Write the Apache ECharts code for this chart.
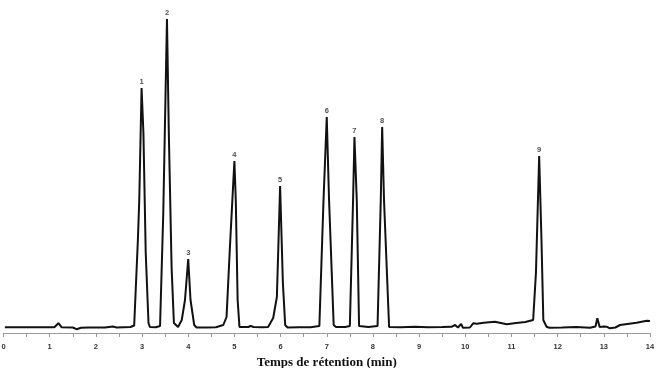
<!DOCTYPE html>
<html lang="fr">
<head>
    <meta charset="utf-8">
    <title>Chromatogramme</title>
    <style>
        html, body { margin: 0; padding: 0; background: #fff; }
        #chart { width: 657px; height: 368px; }
    </style>
</head>
<body>
    <div id="chart"></div>

<script src="https://cdn.jsdelivr.net/npm/echarts@6/dist/echarts.min.js"></script>
<script>
    // temps de retention (min) et signal du detecteur (unites arbitraires)
    var retentionTimes = [
        0.03, 0.5, 1.10, 1.19, 1.26, 1.5, 1.58, 1.68, 1.85, 2.0, 2.2, 2.37, 2.45, 2.75,
        2.83, 2.91, 2.94, 2.99, 3.03, 3.08, 3.14, 3.17, 3.3,
        3.39, 3.46, 3.54, 3.58, 3.64, 3.69, 3.78,
        3.86, 3.93, 4.00, 4.05, 4.13, 4.18, 4.4, 4.6,
        4.76, 4.83, 4.90, 5.00, 5.03, 5.07, 5.11, 5.3, 5.35, 5.42, 5.6, 5.73,
        5.84, 5.92, 5.99, 6.05, 6.10, 6.15, 6.4, 6.65,
        6.84, 6.93, 7.00, 7.05, 7.15, 7.2, 7.4,
        7.50, 7.57, 7.60, 7.65, 7.70, 7.9,
        8.10, 8.17, 8.20, 8.24, 8.35, 8.6, 8.9, 9.2, 9.5, 9.7,
        9.78, 9.84, 9.91, 9.95, 10.1, 10.17, 10.25, 10.4, 10.64, 10.9, 11.1, 11.3, 11.47,
        11.51, 11.53, 11.60, 11.65, 11.69, 11.76, 11.82, 12.1, 12.4, 12.7,
        12.82, 12.86, 12.91, 13.0, 13.06, 13.13, 13.25, 13.35, 13.71, 13.93, 14.0
    ];
    var signal = [
        0.7, 0.7, 0.7, 4.8, 0.7, 0.5, -1.2, 0.3, 0.6, 0.4, 0.6, 1.4, 0.6, 1.0,
        2.5, 88, 128, 240, 195, 75, 5, 1, 0.8,
        2, 115, 309, 195, 61, 5, 1,
        8, 28, 69, 28, 3, 0.5, 0.5, 0.7,
        3, 11, 78, 167, 128, 28, 1, 1, 2, 1, 0.8, 1,
        10, 31, 142, 45, 3, 0.5, 0.7, 0.8,
        2, 128, 211, 128, 3, 1, 1,
        2, 128, 191, 128, 2, 1,
        2, 128, 201, 128, 1, 0.8, 1.3, 0.8, 1, 1.2,
        3, 0.5, 4, 0.3, 0.5, 4.7, 4.2, 5.2, 6.3, 3.7, 5, 6, 8,
        8, 55, 172, 88, 8, 1.3, 0.3, 0.5, 1, 0.3,
        1.5, 9.7, 1, 1.5, 1.3, -0.3, 0.5, 3, 5.3, 7.3, 7
    ];

    // pics identifies
    var peakLabels = ['1', '2', '3', '4', '5', '6', '7', '8', '9'];
    var peakTimes = [2.99, 3.54, 4.00, 5.00, 5.99, 7.00, 7.60, 8.20, 11.60];
    var peakHeights = [240, 309, 69, 167, 142, 211, 191, 201, 172];

    var myChart = echarts.init(document.getElementById('chart'));

    var traceData = [];
    for (var i = 0; i < retentionTimes.length; i++) {
        traceData.push([retentionTimes[i], signal[i]]);
    }

    var peakData = [];
    for (var j = 0; j < peakTimes.length; j++) {
        peakData.push({ value: [peakTimes[j], peakHeights[j]], name: peakLabels[j] });
    }

    var option = {
        animation: false,
        backgroundColor: '#fff',
        grid: { left: 3.5, right: 7, top: 18, bottom: 35, outerBoundsMode: 'none' },
        xAxis: {
            type: 'value',
            min: 0,
            max: 14,
            interval: 1,
            name: 'Temps de rétention (min)',
            nameLocation: 'middle',
            nameGap: 22,
            nameTextStyle: {
                fontFamily: 'Liberation Serif',
                fontWeight: 'bold',
                fontSize: 13,
                color: '#111'
            },
            axisLine: { onZero: false, lineStyle: { color: '#999', width: 1 } },
            axisTick: { length: 4, lineStyle: { color: '#999' } },
            minorTick: { show: true, splitNumber: 2, length: 4, lineStyle: { color: '#999' } },
            splitLine: { show: false },
            axisLabel: {
                margin: 10,
                fontFamily: 'Liberation Sans',
                fontWeight: 'bold',
                fontSize: 7.5,
                color: '#333'
            }
        },
        yAxis: {
            type: 'value',
            min: -5,
            max: 310,
            show: false
        },
        series: [
            {
                type: 'line',
                data: traceData,
                showSymbol: false,
                lineStyle: { color: '#111', width: 2 },
                z: 2
            },
            {
                type: 'scatter',
                data: peakData,
                symbolSize: 0,
                label: {
                    show: true,
                    position: 'top',
                    distance: 2,
                    formatter: '{b}',
                    fontFamily: 'Liberation Sans',
                    fontWeight: 'bold',
                    fontSize: 7.5,
                    color: '#222'
                },
                z: 3
            }
        ]
    };
    myChart.setOption(option);
</script>
</body>
</html>
